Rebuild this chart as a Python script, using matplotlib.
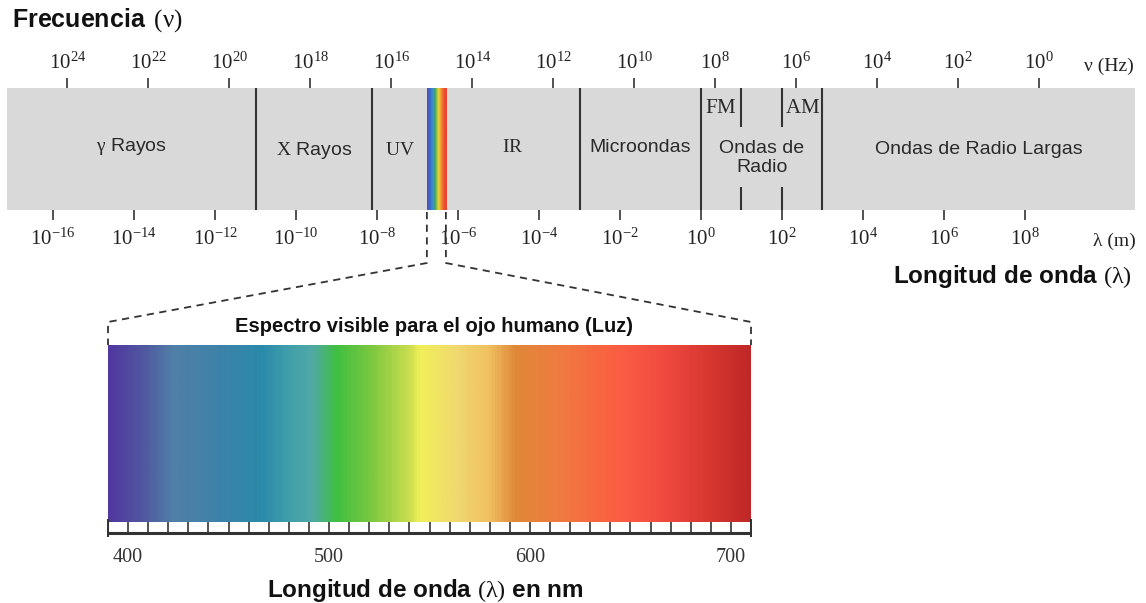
import numpy as np
import matplotlib
matplotlib.use('Agg')
import matplotlib.pyplot as plt
from matplotlib.colors import LinearSegmentedColormap

plt.rcParams['mathtext.fontset'] = 'custom'
plt.rcParams['mathtext.rm'] = 'Liberation Serif'
plt.rcParams['mathtext.it'] = 'Liberation Serif:italic'
plt.rcParams['mathtext.bf'] = 'Liberation Serif:bold'
plt.rcParams['font.family'] = ['Liberation Sans', 'DejaVu Sans']

# ---------------- data ----------------
bar_range = (-17.14, 10.72)            # log10(lambda / m) covered by the bar
lam_exps = list(range(-16, 9, 2))      # wavelength tick exponents
nu_exps = list(range(24, -1, -2))      # frequency tick exponents
LOG_C = 8.35                           # log10(nu) = LOG_C - log10(lambda)
band_bounds = [-11.0, -8.12, -3.0, 0.0, 3.0]   # full separators
radio_sub = [1.0, 2.0]                 # partial separators (FM / AM)
visible_band = (-6.77, -6.30)
regions = [
    (bar_range[0], -11.0, r"$\mathrm{\gamma}$ Rayos", 0.52),
    (-11.0, -8.12, r"$\mathrm{X}$ Rayos", 0.49),
    (-8.12, -6.77, r"$\mathrm{UV}$", 0.49),
    (-6.30, -3.0, r"$\mathrm{IR}$", 0.51),
    (-3.0, 0.0, "Microondas", 0.51),
    (0.0, 3.0, "Ondas de\nRadio", 0.43),
    (3.0, bar_range[1], "Ondas de Radio Largas", 0.50),
]
sub_regions = [(0.0, 1.0, r"$\mathrm{FM}$"), (2.0, 3.0, r"$\mathrm{AM}$")]

band_colors = ['#4a4fb8', '#4068c8', '#3a8ed2', '#47b04c', '#f0d43c',
               '#f09030', '#ec5030', '#e84030']

vis_range = (390, 710)                 # nm
vis_ticks = [400, 500, 600, 700]
vis_stops_nm = [390, 407, 422, 443, 466, 480, 491, 504, 522, 541, 545, 564,
                580, 593, 616, 637, 649, 668, 689, 710]
vis_stops_col = ['#5038a0', '#5058a0', '#5080a8', '#3f82a8', '#2a8aaa',
                 '#40a0aa', '#50a8a8', '#40c040', '#80c840', '#d0e050',
                 '#f0f058', '#f0d870', '#f0c060', '#e08838', '#f07a40',
                 '#f86440', '#fa5a44', '#f04a40', '#d83830', '#c02828']

# ---------------- figure ----------------
W, H = 1146, 603
fig = plt.figure(figsize=(W / 100, H / 100), dpi=100)


def rect(x0, y0, x1, y1):
    return [x0 / W, 1 - y1 / H, (x1 - x0) / W, (y1 - y0) / H]


DARK = '#333333'

# main bar
ax = fig.add_axes(rect(7, 88, 1135, 210))
ax.set_facecolor('#d9d9d9')
for s in ax.spines.values():
    s.set_visible(False)
ax.set_yticks([])
ax.set_xticks(lam_exps)
ax.set_xticklabels([r'$10^{%d}$' % e for e in lam_exps])
ax.tick_params(axis='x', direction='out', length=7, width=1.2, color=DARK,
               pad=6, labelsize=15, labelcolor='#222222')

ax.vlines(band_bounds, 0, 1, color=DARK, lw=1.5)
ax.vlines(radio_sub, 0.68, 1, color=DARK, lw=1.5)
ax.vlines(radio_sub, 0, 0.19, color=DARK, lw=1.5)

band_cmap = LinearSegmentedColormap.from_list('band', band_colors)
ax.imshow(np.linspace(0, 1, 200)[None, :], extent=[visible_band[0], visible_band[1], 0, 1],
          aspect='auto', cmap=band_cmap, interpolation='bilinear')
ax.set_xlim(*bar_range)
ax.set_ylim(0, 1)

for x0, x1, lab, yy in regions:
    ax.text((x0 + x1) / 2, yy, lab, ha='center', va='center', fontsize=14,
            color='#2a2a2a', linespacing=1.15)
for x0, x1, lab in sub_regions:
    ax.text((x0 + x1) / 2, 0.84, lab, ha='center', va='center', fontsize=15,
            color='#2a2a2a')

ax2 = ax.twiny()
ax2.set_xlim(*bar_range)
for s in ax2.spines.values():
    s.set_visible(False)
ax2.set_xticks([LOG_C - e for e in nu_exps])
ax2.set_xticklabels([r'$10^{%d}$' % e for e in nu_exps])
ax2.tick_params(axis='x', direction='out', length=7, width=1.2, color=DARK,
                pad=4, labelsize=15, labelcolor='#222222')

# visible spectrum
axs = fig.add_axes(rect(107, 345, 752, 538))
axs.set_facecolor('white')
for s in axs.spines.values():
    s.set_visible(False)
vis_pos = [(v - vis_range[0]) / (vis_range[1] - vis_range[0]) for v in vis_stops_nm]
vis_cmap = LinearSegmentedColormap.from_list('vis', list(zip(vis_pos, vis_stops_col)))
axs.imshow(np.linspace(0, 1, 600)[None, :], extent=[vis_range[0], vis_range[1], 522, 345],
           aspect='auto', cmap=vis_cmap, interpolation='bilinear')
minor = np.arange(vis_range[0], vis_range[1] + 1, 10)
axs.vlines(minor, 522, 533, color=DARK, lw=1.2)
axs.hlines(533, vis_range[0], vis_range[1], color=DARK, lw=2.2)
axs.vlines([vis_range[0], vis_range[1]], 519, 537, color=DARK, lw=1.5)
axs.set_xlim(vis_range[0] - 0.5, vis_range[1] + 0.5)
axs.set_ylim(538, 345)
axs.set_yticks([])
axs.set_xticks(vis_ticks)
axs.set_xticklabels([str(v) for v in vis_ticks], family=['Liberation Serif', 'DejaVu Serif'])
axs.tick_params(axis='x', length=0, pad=7, labelsize=14.5, labelcolor='#333333')

# overlay in pixel units
ov = fig.add_axes([0, 0, 1, 1])
ov.set_xlim(0, W)
ov.set_ylim(H, 0)
ov.axis('off')
ov.patch.set_alpha(0)


def to_ov(a, pt):
    return ov.transData.inverted().transform(a.transData.transform(pt))


(xl, yb) = to_ov(ax, (visible_band[0], 0))
(xr, _) = to_ov(ax, (visible_band[1], 0))
(sl, st) = to_ov(axs, (vis_range[0], 345))
(sr, _) = to_ov(axs, (vis_range[1], 345))
for xb, xs in [(xl, sl), (xr, sr)]:
    ov.plot([xb, xb, xs, xs], [yb + 2, 263, 322, st], ls=(0, (4, 3)),
            color=DARK, lw=1.3)

ov.text(12, 20, r"Frecuencia $\,(\mathrm{\nu})$", ha='left', va='center',
        fontsize=18, fontweight='bold', color='#111111')
ov.text(1132, 277, r"Longitud de onda $(\mathrm{\lambda})$", ha='right', va='center',
        fontsize=17.5, fontweight='bold', color='#111111')
ov.text(1084, 66, "ν (Hz)", ha='left', va='center', fontsize=14,
        family=['Liberation Serif', 'DejaVu Serif'], color='#222222')
ov.text(1093, 241, "λ (m)", ha='left', va='center', fontsize=14,
        family=['Liberation Serif', 'DejaVu Serif'], color='#222222')
ov.text(434, 326, "Espectro visible para el ojo humano (Luz)", ha='center',
        va='center', fontsize=14.5, fontweight='bold', color='#111111')
ov.text(425, 590, r"Longitud de onda $(\mathrm{\lambda})$ en nm", ha='center',
        va='center', fontsize=17.5, fontweight='bold', color='#111111')

fig.savefig('out.png', dpi=100)
